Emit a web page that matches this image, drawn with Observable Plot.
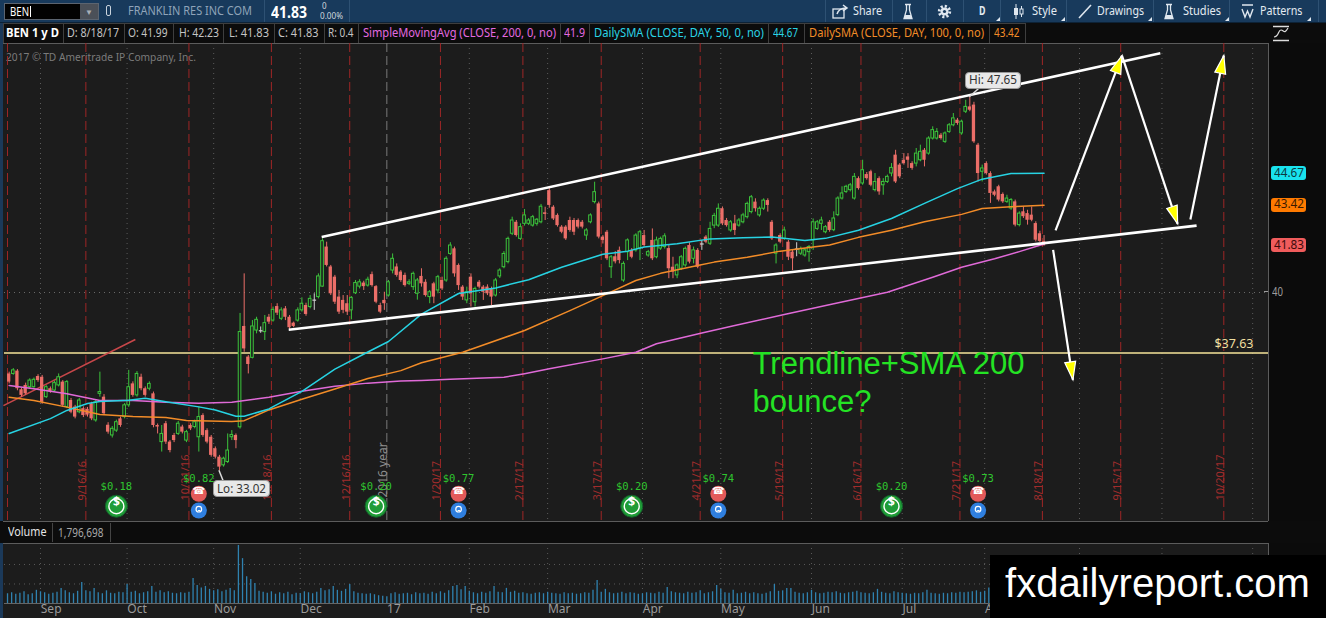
<!DOCTYPE html>
<html><head><meta charset="utf-8">
<script src="https://cdn.jsdelivr.net/npm/d3@7"></script>
<script src="https://cdn.jsdelivr.net/npm/@observablehq/plot@0.6"></script>
<style>
html,body{margin:0;padding:0;background:#1c1c1c;overflow:hidden}
#root{position:relative;width:1326px;height:618px;overflow:hidden;background:#1c1c1c;font-family:"Noto Sans","Open Sans",sans-serif}
#root svg{display:block}
</style></head><body><div id="root"></div>
<script>
// ---------- DATA (bar index 0 = 8/19/16 ... 251 = 8/18/17) ----------
const opens = [
36.81,36.81,36.92,36.19,36.36,36.29,36.29,36.71,36.68,35.90,
36.23,36.16,36.36,36.49,35.51,35.77,35.51,35.31,35.45,35.42,
35.64,34.99,36.03,35.90,34.80,34.40,34.59,35.05,35.12,35.58,
36.42,35.97,36.68,36.23,36.23,36.03,34.79,34.14,34.86,34.14,
34.40,34.46,34.73,34.20,34.79,34.73,34.33,35.18,34.59,34.33,
33.88,33.55,33.23,33.36,34.33,34.40,34.72,38.67,37.47,37.44,
38.51,38.50,38.45,39.03,38.90,39.45,38.97,39.36,39.03,38.80,
38.90,39.30,39.49,39.43,39.70,39.82,40.23,41.78,41.00,40.60,
39.82,39.69,39.56,39.30,39.97,40.23,40.37,40.27,40.70,40.23,
39.49,39.69,39.88,40.86,41.00,40.80,40.67,40.34,40.21,39.95,
40.63,40.40,39.82,40.34,40.08,40.47,40.47,41.51,41.71,41.06,
40.21,39.69,40.60,39.62,40.40,40.21,40.21,40.14,39.88,40.63,
40.99,41.19,42.30,42.75,42.10,42.69,42.69,42.62,42.69,42.75,
43.12,43.99,43.34,43.02,42.56,42.56,42.82,42.82,42.82,42.75,
42.23,42.75,43.54,43.47,42.17,42.36,40.99,41.40,41.65,40.47,
41.58,41.65,41.65,41.72,42.23,41.45,42.04,41.38,41.72,41.78,
41.72,40.99,40.67,40.93,41.06,41.84,41.32,41.65,41.90,42.17,
41.91,42.62,42.62,43.28,42.82,42.43,42.69,42.62,42.75,42.95,
43.15,43.54,43.02,43.28,43.60,42.75,41.52,42.23,42.10,41.97,
41.58,41.70,41.52,41.45,41.58,42.04,42.49,42.69,42.36,42.75,
42.44,43.03,43.68,43.94,44.01,43.68,44.46,44.27,44.62,44.73,
44.01,44.46,44.20,44.33,44.66,45.38,44.99,45.18,45.31,45.05,
45.05,45.18,45.57,45.44,46.03,46.03,46.16,45.90,46.29,46.55,
46.75,46.23,47.08,47.27,47.34,45.77,44.73,45.05,44.66,43.94,
44.14,43.84,43.55,43.29,43.55,42.64,43.16,43.09,43.03,42.70,
42.30,41.99];
const highs = [
36.88,37.02,36.98,36.25,36.45,36.62,36.65,36.78,36.75,36.35,
36.30,36.52,36.81,36.55,36.55,35.85,35.58,35.85,35.52,35.50,
35.70,35.78,36.88,36.00,34.90,34.75,35.00,35.12,35.65,36.95,
36.50,36.90,36.80,36.30,36.50,36.10,34.85,34.79,34.95,34.20,
34.48,34.95,34.80,34.60,34.86,35.00,35.51,35.25,34.66,34.40,
33.95,33.62,33.55,34.46,34.59,34.46,39.18,40.73,37.53,38.90,
39.03,38.65,39.10,39.14,39.43,39.56,39.40,39.45,39.10,38.84,
39.40,39.79,39.58,39.88,39.95,40.73,42.10,41.97,41.06,40.67,
40.08,39.88,39.88,39.84,40.47,40.50,40.44,40.60,40.80,40.27,
39.58,40.01,40.47,41.51,41.12,40.86,40.76,40.50,40.80,40.55,
40.93,40.50,40.08,40.40,40.67,40.60,41.40,41.95,41.78,41.12,
40.27,40.21,40.73,40.21,40.47,40.27,40.30,40.21,40.55,40.93,
41.60,42.17,42.95,42.82,42.69,43.25,42.90,43.02,42.90,43.45,
43.34,44.10,43.40,43.08,42.62,42.62,42.95,42.90,42.88,42.82,
42.50,43.08,44.32,43.54,42.23,42.43,41.45,41.60,41.78,41.20,
42.10,41.72,42.30,42.43,42.43,41.65,42.49,42.17,42.17,42.30,
41.84,41.38,41.12,41.45,41.78,41.95,41.78,41.72,42.04,42.23,
42.75,43.10,43.47,43.35,42.90,42.82,43.02,42.90,43.10,43.54,
43.80,43.67,43.35,43.67,43.67,42.82,41.91,42.30,42.56,42.04,
41.65,41.95,41.78,41.72,41.84,42.88,42.82,42.95,42.62,42.82,
43.16,43.75,44.14,44.20,44.27,44.66,44.53,45.18,44.70,44.79,
44.66,44.53,44.46,44.60,45.05,45.57,45.05,45.44,45.44,45.12,
45.64,45.77,45.64,46.10,46.49,46.42,46.23,46.29,46.62,47.01,
46.82,46.75,47.53,47.65,47.45,45.84,44.99,45.12,44.73,44.01,
44.20,43.90,43.81,43.68,43.62,43.16,43.35,43.22,43.35,42.77,
42.40,42.23];
const lows = [
36.42,36.76,36.15,35.90,35.98,36.22,36.25,36.48,35.62,35.85,
36.05,36.10,36.30,35.50,35.45,35.25,35.05,35.25,35.10,35.12,
34.98,34.92,35.90,35.18,34.45,34.30,34.52,34.72,35.05,35.50,
35.90,35.90,36.15,35.90,36.15,34.70,34.46,33.75,34.05,33.72,
34.12,34.40,34.46,34.12,34.59,34.66,33.75,34.33,34.07,33.55,
33.48,33.02,33.16,33.30,34.20,33.88,34.65,37.66,36.81,37.40,
38.38,38.40,38.12,38.75,38.84,39.10,38.90,38.90,38.54,38.62,
38.84,39.23,39.07,39.36,39.30,39.75,40.21,41.00,39.88,39.53,
39.14,39.17,39.10,38.93,39.92,40.14,40.08,40.21,40.21,39.56,
39.17,39.30,39.82,40.73,40.60,40.40,40.21,40.27,40.08,39.70,
40.21,39.82,39.56,39.56,39.95,40.08,40.40,41.45,40.60,40.08,
39.69,39.56,39.43,39.43,40.14,39.69,39.88,39.49,39.82,40.55,
40.93,41.12,42.23,42.17,42.04,42.60,42.62,42.56,42.60,42.69,
42.82,43.30,42.82,42.56,42.30,42.04,42.36,42.23,42.49,42.49,
42.04,42.69,43.47,42.10,41.90,41.25,40.55,41.12,41.12,40.40,
41.25,41.32,41.58,41.25,41.78,41.38,41.25,41.32,41.65,41.70,
40.54,40.54,40.54,40.86,40.99,41.12,41.12,40.93,41.65,41.91,
41.84,42.50,42.55,42.62,42.56,42.36,42.23,42.56,42.69,42.88,
43.08,43.15,42.95,43.21,43.15,42.04,41.12,41.91,42.04,41.25,
40.86,41.40,41.45,41.38,41.19,41.65,42.43,42.43,42.30,42.36,
42.38,42.97,43.62,43.88,43.94,43.62,44.01,44.20,44.40,44.14,
43.94,43.81,43.81,44.27,44.53,44.27,44.46,44.99,44.86,44.79,
44.92,45.12,44.92,45.38,45.97,45.97,45.97,45.84,46.23,46.49,
46.55,46.16,47.01,47.08,45.84,44.33,44.33,44.60,43.49,43.75,
43.55,43.49,43.49,43.22,42.57,42.57,42.90,42.64,42.77,41.98,
41.95,41.83];
const closes = [
36.49,36.95,36.23,35.97,36.03,36.55,36.58,36.55,35.70,36.29,
36.10,36.45,36.68,35.58,36.49,35.31,35.12,35.77,35.18,35.20,
35.05,35.70,36.10,35.25,34.53,34.66,34.92,34.79,35.58,36.29,
35.97,36.81,36.23,35.97,36.42,34.79,34.73,34.46,34.14,33.81,
34.20,34.86,34.53,34.53,34.66,34.92,35.12,34.40,34.14,33.62,
33.55,33.16,33.49,33.81,34.42,34.20,38.45,37.79,37.18,38.67,
38.93,38.50,38.80,38.84,39.32,39.19,39.30,39.03,38.62,38.67,
39.30,39.56,39.14,39.75,39.70,40.63,42.01,41.06,39.95,39.62,
39.23,39.30,39.23,39.79,40.37,40.40,40.23,40.50,40.27,39.62,
39.23,39.56,40.40,41.32,40.67,40.47,40.27,40.40,40.73,40.47,
40.34,39.88,40.01,39.82,40.60,40.14,41.32,41.84,40.73,40.27,
39.82,40.01,39.95,40.14,40.21,40.01,39.95,39.82,40.47,40.86,
41.51,42.10,42.82,42.23,42.56,43.02,42.82,42.95,42.85,43.36,
43.06,43.41,42.88,42.62,42.36,42.10,42.43,42.36,42.56,42.56,
42.43,43.02,43.93,42.17,42.04,41.32,41.38,41.20,41.25,41.12,
42.04,41.38,42.23,42.36,41.84,41.58,41.32,42.04,42.10,42.20,
40.93,40.80,41.06,41.38,41.71,41.19,41.65,40.99,41.90,41.97,
42.49,43.00,43.28,42.69,42.62,42.75,42.43,42.82,43.02,43.47,
43.73,43.28,43.28,43.60,43.41,42.10,41.84,41.97,42.43,41.38,
41.32,41.70,41.71,41.65,41.78,42.75,42.75,42.82,42.56,42.43,
42.90,43.68,43.88,44.14,44.20,44.53,44.07,44.79,44.46,44.20,
44.33,43.94,44.33,44.53,44.88,44.33,44.53,45.05,45.18,44.86,
45.44,45.51,45.18,46.03,46.36,46.29,46.03,46.23,46.55,46.82,
46.62,46.69,47.27,47.14,45.90,44.66,44.86,44.66,43.88,43.81,
43.62,43.55,43.68,43.62,42.64,43.09,42.97,42.83,42.83,42.05,
42.00,41.83];
// volume, millions of shares
const volumes = [
2.0,2.2,1.9,2.1,2.4,1.8,2.0,2.7,2.4,2.2,
1.9,2.1,2.3,3.1,2.6,2.2,2.0,2.5,4.3,2.6,
2.4,3.1,2.2,2.0,2.6,2.1,2.0,2.3,2.2,3.9,
2.3,2.5,2.0,2.2,2.4,3.5,2.3,2.6,2.2,2.4,
2.1,2.0,2.2,2.1,2.3,5.1,3.7,3.2,3.5,2.9,
2.6,2.8,2.4,2.7,3.1,2.6,11.9,9.2,5.5,4.9,
4.1,2.5,2.3,2.1,2.4,1.9,2.2,2.0,2.3,1.8,
2.1,2.0,2.4,2.2,2.0,2.3,3.1,2.6,2.8,3.5,
2.7,2.5,2.9,3.9,2.4,2.1,2.0,1.9,2.0,1.8,
1.6,1.5,1.4,2.0,2.2,1.9,2.0,2.1,1.8,2.2,
2.0,2.1,1.9,2.3,2.0,2.4,2.1,2.6,3.5,3.7,
2.8,3.5,2.5,2.2,2.0,2.3,2.1,2.4,3.5,2.3,
2.2,3.1,2.3,2.5,2.1,2.2,2.0,1.9,2.1,2.2,
2.0,2.3,2.1,2.0,1.9,2.2,2.0,2.1,1.9,2.0,
2.2,2.1,2.7,4.7,2.3,2.9,2.2,2.0,2.1,2.3,
2.0,2.2,2.1,1.9,2.0,2.2,2.1,2.0,2.3,2.1,
3.3,2.4,2.2,2.1,2.0,2.3,2.1,2.2,2.6,2.0,
2.2,2.4,3.7,2.9,2.2,2.1,2.7,2.0,2.1,2.3,
2.0,2.2,2.0,1.9,2.1,2.4,3.9,2.5,2.6,3.1,
3.1,2.3,2.1,2.0,2.2,2.7,2.2,2.0,2.1,2.3,
2.2,2.4,2.1,2.0,2.2,2.3,2.5,2.2,2.1,2.0,
2.2,2.9,2.3,2.1,2.0,2.4,2.2,2.1,2.0,1.9,
2.1,2.0,2.2,2.7,2.1,2.0,1.9,2.1,2.0,2.2,
2.1,2.3,2.2,2.3,2.4,2.6,2.3,2.5,3.2,2.8,
2.6,2.4,2.2,2.3,3.0,2.5,2.2,2.4,2.1,2.8,
2.3,1.796698];
// moving averages [bar index, value]
const sma50 = [[0,34.48],[10,35.06],[14,35.38],[19,35.65],[22,35.73],[29,35.78],[33,35.86],[38,35.72],[46,35.52],[50,35.40],[55,35.15],[57,35.15],[63,35.44],[71,36.13],[79,37.00],[87,37.67],[92,38.08],[100,39.15],[109,39.96],[118,40.18],[126,40.50],[134,40.99],[144,41.50],[150,41.62],[154,41.78],[162,41.91],[170,42.10],[178,42.14],[185,42.17],[193,42.04],[198,42.12],[206,42.44],[214,42.90],[222,43.49],[230,44.07],[236,44.44],[243,44.66],[251,44.67]];
const sma100 = [[0,35.90],[6,35.77],[14,35.51],[22,35.22],[30,35.14],[38,35.10],[43,34.99],[54,34.95],[57,34.98],[63,35.40],[71,35.82],[79,36.22],[87,36.63],[95,36.94],[100,37.25],[110,37.66],[125,38.51],[136,39.29],[144,39.88],[152,40.47],[158,40.75],[167,41.06],[171,41.19],[179,41.38],[187,41.62],[195,41.78],[199,41.86],[206,42.16],[214,42.44],[222,42.77],[231,43.06],[236,43.29],[243,43.36],[251,43.42]];
const sma200 = [[0,36.36],[6,36.23],[14,36.03],[22,35.77],[30,35.77],[38,35.70],[46,35.66],[54,35.70],[63,35.90],[71,36.13],[79,36.33],[87,36.45],[95,36.53],[100,36.55],[107,36.60],[120,36.68],[125,36.82],[131,37.01],[144,37.40],[152,37.66],[157,37.99],[168,38.41],[176,38.71],[188,39.14],[200,39.56],[213,40.01],[224,40.60],[231,40.99],[239,41.32],[245,41.60],[251,41.90]];
const lastValues = [44.67, 43.42, 41.83];        // SMA50, SMA100, close
const supportLevel = 37.63;
const gridPrice = [40];
const volGrid = [4, 8];
// calendar
const expiryIdx = [0,19,44,64,83,105,125,144,168,188,207,231,251,270,295];
const expiryLabels = ["","9/16/16","10/21/16","11/18/16","12/16/16","1/20/17","2/17/17","3/17/17","4/21/17","5/19/17","6/16/17","7/21/17","8/18/17","9/15/17","10/20/17"];
const monthEnds = [8,29,50,71,112,131,154,173,195,217,237,260,280,302];
const yearEnd = 92;
const monthTickIdx = [9,30,51,72,93,113,132,155,174,196,218,238];
const monthTickLabels = ["Sep","Oct","Nov","Dec","17","Feb","Mar","Apr","May","Jun","Jul","Aug"];
// events
const divIdx = [26,89,151,214];
const divLabels = ["$0.18","$0.20","$0.20","$0.20"];
const earnIdx = [46,109,172,235];
const earnLabels = ["$0.82","$0.77","$0.74","$0.73"];
const hiBar = 233, hiValue = 47.65, loBar = 51, loValue = 33.02;
// drawings [bar index, price]
const trendlines = [{x1:75.8,y1:42.17,x2:279.2,y2:49.37},{x1:67.8,y1:38.54,x2:288.0,y2:42.62}];
const redLine = [{x1:-1.4,y1:35.57,x2:30.6,y2:38.16}];
const arrows = [{x1:253.8,y1:42.43,x2:269.9,y2:49.28},{x1:269.9,y1:49.28,x2:283.4,y2:42.69},{x1:286.5,y1:42.86,x2:294.6,y2:49.28},{x1:253.2,y1:41.67,x2:258.0,y2:36.58}];
const note = {i:180.3, price:35.31, text:"Trendline+SMA 200\nbounce?"};

// ---------- STYLE / LAYOUT ----------
const GREEN="#3cc43c", RED="#eb6e68", GRAY="#d0d0d0", BG="#1c1c1c";
const XDOM=[-1.133,305.44], YDOM=[31.03,49.753];
const root=document.getElementById("root");
function box(x,y,w,h,css){const d=document.createElement("div");Object.assign(d.style,{position:"absolute",left:x+"px",top:y+"px",width:w+"px",height:h+"px"},css||{});root.appendChild(d);return d;}
function txt(x,cy,s,css,fitW){const d=document.createElement("div");d.textContent=s;Object.assign(d.style,{position:"absolute",left:x+"px",top:"0px",whiteSpace:"nowrap",lineHeight:"1",transformOrigin:"0 50%"},css||{});root.appendChild(d);const r=d.getBoundingClientRect();d.style.top=(cy-r.height/2)+"px";if(fitW&&r.width>0)d.style.transform=`scaleX(${fitW/r.width})`;return d;}
function icon(x,y,w,h,inner){const d=box(x,y,w,h);d.innerHTML=`<svg width="${w}" height="${h}" viewBox="0 0 ${w} ${h}">${inner}</svg>`;return d;}

// toolbar
box(0,0,1326,23,{background:"#183a5c"});
box(0,22,1326,1,{background:"#0d2236"});
box(4,3,95,17,{background:"#020202",border:"1px solid #5b6470",boxSizing:"border-box"});
txt(10,11.5,"BEN",{fontSize:"12px",color:"#fff"},19);
box(30,6,1,11,{background:"#fff"});
box(80,4,18,15,{background:"#4b5058"});
txt(85,11.5,"▼",{fontSize:"8px",color:"#a9b0b8"});
box(106,5,5,11,{border:"1px solid #c9d3dd",borderRadius:"2px",boxSizing:"border-box"});
txt(128,11.5,"FRANKLIN RES INC COM",{fontSize:"12.5px",color:"#8fa4b9"},124);
box(264,0,1,22,{background:"#2e5173"});
txt(271,12,"41.83",{fontSize:"16px",color:"#fff",fontWeight:"bold"},36);
txt(322,5.5,"0",{fontSize:"8px",color:"#d0d6dc"});
txt(320,16,"0.00%",{fontSize:"8px",color:"#d0d6dc"},23);
box(349,0,1,22,{background:"#2e5173"});
[825,891.5,925.5,962.5,1000,1065.7,1152.8,1229,1318].forEach(x=>box(x,0,1,22,{background:"#2e5173"}));
const TB={fontSize:"12.5px",color:"#e3eaf1"};
txt(853,11.5,"Share",TB,29);txt(1032,11.5,"Style",TB,25);txt(1097,11.5,"Drawings",TB,47);txt(1182.5,11.5,"Studies",TB,38);txt(1260,11.5,"Patterns",TB,42.5);
txt(979,11.5,"D",Object.assign({fontWeight:"bold"},TB),6.5);
const IC="#dfe7ef";
icon(832,4,18,15,`<rect x="1" y="5" width="11" height="9" fill="none" stroke="${IC}" stroke-width="1.3"/><path d="M5 10 Q7 4 14 4 M11 1 L15 4 L11 7" fill="none" stroke="${IC}" stroke-width="1.5"/>`);
const flask=`<path d="M2 1.5 H8 M3.5 1.5 V7 L1 15.5 H9 L6.5 7 V1.5" fill="none" stroke="${IC}" stroke-width="1.3"/><path d="M2.2 12 H7.8 L8.6 15 H1.4Z" fill="${IC}"/>`;
icon(903,3,10,17,flask);icon(1164,3,10,17,flask);
icon(937,4,15,15,`<circle cx="7.5" cy="7.5" r="5.3" fill="none" stroke="${IC}" stroke-width="2.8" stroke-dasharray="2.1 2"/><circle cx="7.5" cy="7.5" r="4" fill="${IC}"/><circle cx="7.5" cy="7.5" r="1.6" fill="#183a5c"/>`);
icon(1013,3,11,17,`<line x1="3" y1="1" x2="3" y2="16" stroke="${IC}"/><rect x="1" y="5" width="4" height="7" fill="${IC}"/><line x1="8.5" y1="3" x2="8.5" y2="14" stroke="${IC}"/><rect x="7" y="6" width="3" height="5" fill="#183a5c" stroke="${IC}"/>`);
icon(1078,4,14,15,`<line x1="1" y1="14" x2="13" y2="1" stroke="${IC}" stroke-width="1.6"/>`);
icon(1241,3,13,17,`<line x1="1" y1="2" x2="12" y2="2" stroke="${IC}" stroke-width="1.5"/><path d="M1 6 L4 14 L6.5 8 L9 14 L12 6" fill="none" stroke="${IC}" stroke-width="1.4"/>`);
[996,1061,1148,1225,1307].forEach(x=>icon(x,17,4,4,`<polygon points="4,0 4,4 0,4" fill="${IC}"/>`));

// study header row
box(0,23,1326,20,{background:"#0c0c0c"});
box(3,23,1022,1,{background:"#3e3e3e"});
const cells=[
 [6,"BEN 1 y D","#ffffff",53,true,63],[67,"D: 8/18/17","#c4c4c4",52,false,124],[128,"O: 41.99","#c4c4c4",39.5,false,172.6],
 [179,"H: 42.23","#c4c4c4",40,false,223],[229,"L: 41.83","#c4c4c4",40,false,273.6],[278,"C: 41.83","#c4c4c4",40.5,false,324],
 [328,"R: 0.4","#c4c4c4",25.5,false,357.7],[363,"SimpleMovingAvg (CLOSE, 200, 0, no)","#e46ae0",193,false,560],
 [564,"41.9","#e46ae0",21,false,589],[594,"DailySMA (CLOSE, DAY, 50, 0, no)","#2ad4e6",170,false,768],
 [773,"44.67","#2ad4e6",25,false,804],[809,"DailySMA (CLOSE, DAY, 100, 0, no)","#f28c28",175,false,989],[993.5,"43.42","#f28c28",25.5,false,1024.5]];
box(3,23,1,20,{background:"#3e3e3e"});
cells.forEach(([x,s,c,w,b,bx])=>{txt(x,33,s,{fontSize:"12.5px",color:c,fontWeight:b?"bold":"normal"},w);box(bx,23,1,20,{background:"#3e3e3e"});});
icon(1272,25,20,17,`<line x1="1" y1="1.5" x2="17" y2="1.5" stroke="#ddd" stroke-width="1.5"/><line x1="1" y1="15.5" x2="17" y2="15.5" stroke="#ddd" stroke-width="1.5"/><path d="M2 12 C7 12 6 5 9 5 C12 5 12 10 16 3" fill="none" stroke="#ddd" stroke-width="1.2"/>`);

// chart frame
box(3,43,1265,478,{background:BG});
box(1268,43,58,478,{background:"#0b0b0b"});
box(1268,43,1,478,{background:"#5c5c5c"});
box(3,43,1265,1,{background:"#5c5c5c"});
box(0,23,3,595,{background:"#1b3959"});
txt(6,56.5,"2017 © TD Ameritrade IP Company, Inc.",{fontSize:"10px",color:"#7b7b7b"},190);

// ---------- MAIN PLOT ----------
const candles=closes.map((c,i)=>({i,o:opens[i],h:highs[i],l:lows[i],c}));
const colorOf=d=>d.c>d.o?GREEN:d.c<d.o?RED:GRAY;
const up=candles.filter(d=>d.c>d.o), down=candles.filter(d=>d.c<d.o), flat=candles.filter(d=>d.c===d.o);
const toPts=a=>a.map(([i,v])=>({i,v}));
const kx=(1268-4)/(XDOM[1]-XDOM[0]), ky=478/(YDOM[1]-YDOM[0]);
const heads=arrows.map(a=>({x:a.x2,y:a.y2,angle:Math.atan2((a.x2-a.x1)*kx,(a.y2-a.y1)*ky)*180/Math.PI}));
const headSymbol={draw(ctx){ctx.moveTo(0,0);ctx.lineTo(-5.5,18);ctx.lineTo(5.5,18);ctx.closePath();}};
const expiries=expiryIdx.map((i,k)=>({i,label:expiryLabels[k]}));
const divs=divIdx.map((i,k)=>({i,label:divLabels[k]}));
const earns=earnIdx.map((i,k)=>({i,label:earnLabels[k]}));
const FONT="Noto Sans, sans-serif", MONO="DejaVu Sans Mono, monospace";

const main=Plot.plot({
  width:1326,height:478,marginLeft:4,marginRight:58,marginTop:0,marginBottom:0,
  x:{domain:XDOM,axis:null},y:{domain:YDOM,axis:null},color:{type:"identity"},
  style:{background:"transparent",overflow:"visible"},
  marks:[
    Plot.ruleY(gridPrice,{stroke:"#6b6b6b",strokeDasharray:"1,4"}),
    Plot.ruleX(monthEnds,{x:d=>d-0.4,stroke:"#5c5c5c",strokeDasharray:"1,4"}),
    Plot.ruleX([yearEnd],{x:d=>d-0.4,stroke:"#7a7a7a",strokeDasharray:"9,4"}),
    Plot.ruleX(expiryIdx,{x:d=>d-0.4,stroke:"#9e2626",strokeDasharray:"9,4"}),
    Plot.text(expiries,{x:d=>d.i-0.4,text:"label",frameAnchor:"bottom",dy:-21,rotate:-90,textAnchor:"start",lineAnchor:"bottom",fill:"#a02c2c",fontSize:11,fontFamily:FONT}),
    Plot.text([yearEnd],{x:d=>d-0.4,text:()=>"2016 year",frameAnchor:"bottom",dy:-24,rotate:-90,textAnchor:"start",lineAnchor:"bottom",fill:"#8c8c8c",fontSize:12,fontFamily:FONT}),
    Plot.ruleY([supportLevel],{stroke:"#f6e59a",strokeWidth:1.3}),
    Plot.text([supportLevel],{y:d=>d,text:d=>"$"+d.toFixed(2),frameAnchor:"right",dx:-15,dy:-9.5,textAnchor:"end",fill:"#f0dfa0",fontSize:12.5,fontFamily:FONT}),
    Plot.link(redLine,{x1:"x1",y1:"y1",x2:"x2",y2:"y2",stroke:"#c8474a",strokeWidth:1.5}),
    Plot.ruleX(candles,{x:"i",y1:"l",y2:"h",stroke:colorOf,strokeWidth:1}),
    Plot.rect(down,{x1:d=>d.i-0.4,x2:d=>d.i+0.4,y1:"o",y2:"c",fill:RED}),
    Plot.rect(up,{x1:d=>d.i-0.32,x2:d=>d.i+0.32,y1:"o",y2:"c",fill:BG,stroke:GREEN,strokeWidth:1}),
    Plot.link(flat,{x1:d=>d.i-0.45,x2:d=>d.i+0.45,y1:"o",y2:"o",stroke:GRAY,strokeWidth:1.2}),
    Plot.line(toPts(sma200),{x:"i",y:"v",stroke:"#e06ad8",strokeWidth:1.5}),
    Plot.line(toPts(sma100),{x:"i",y:"v",stroke:"#f28c28",strokeWidth:1.5}),
    Plot.line(toPts(sma50),{x:"i",y:"v",stroke:"#27d3e3",strokeWidth:1.5}),
    Plot.link(trendlines,{x1:"x1",y1:"y1",x2:"x2",y2:"y2",stroke:"#ffffff",strokeWidth:2.6}),
    Plot.link(arrows,{x1:"x1",y1:"y1",x2:"x2",y2:"y2",stroke:"#ffffff",strokeWidth:2.2}),
    Plot.dot(heads,{x:"x",y:"y",rotate:"angle",symbol:headSymbol,fill:"#ffff00",stroke:"#ffffff",strokeWidth:1.2}),
    Plot.text([note],{x:"i",y:"price",text:"text",textAnchor:"start",lineAnchor:"bottom",lineHeight:1.23,fontSize:31,fill:"#24e324",fontFamily:"Liberation Sans, Arial, sans-serif"}),
    Plot.dot(divs,{x:"i",frameAnchor:"bottom",dy:-15.3,r:11,fill:"#1f9c37",stroke:"#13602a",strokeWidth:1}),
    Plot.dot(divs,{x:"i",frameAnchor:"bottom",dy:-15.3,r:7.5,fill:"none",stroke:"#ffffff",strokeWidth:1.4}),
    Plot.text(divs,{x:"i",text:()=>"$",frameAnchor:"bottom",dy:-15.3,fill:"#ffffff",fontSize:12,fontWeight:"bold",fontFamily:FONT}),
    Plot.text(divs,{x:"i",text:"label",frameAnchor:"bottom",dy:-32,fill:"#2fc52f",fontSize:10.5,fontFamily:MONO}),
    Plot.dot(earns,{x:"i",frameAnchor:"bottom",dy:-27.7,r:8,fill:"#e35a5a"}),
    Plot.text(earns,{x:"i",text:()=>"☎",frameAnchor:"bottom",dy:-27.7,fill:"#ffffff",fontSize:10,fontFamily:"DejaVu Sans, sans-serif"}),
    Plot.dot(earns,{x:"i",frameAnchor:"bottom",dy:-11,r:8,fill:"#2f7fdf"}),
    Plot.dot(earns,{x:"i",frameAnchor:"bottom",dy:-12.3,r:2.8,fill:"none",stroke:"#ffffff",strokeWidth:1.2}),
    Plot.text(earns,{x:"i",text:()=>"-",frameAnchor:"bottom",dy:-8.4,fill:"#ffffff",fontSize:9,fontWeight:"bold",fontFamily:FONT}),
    Plot.text(earns,{x:"i",text:"label",frameAnchor:"bottom",dy:-40,fill:"#2fc52f",fontSize:10.5,fontFamily:MONO})
  ]
});
Object.assign(main.style,{position:"absolute",left:"0px",top:"43px"});
root.appendChild(main);
const sx=main.scale("x"), sy=main.scale("y");

// ---------- VOLUME ----------
box(0,521,1326,22,{background:"#0c0c0c"});
box(3,521,1265,1,{background:"#5c5c5c"});
txt(7.5,532.5,"Volume",{fontSize:"12.5px",color:"#e6e6e6"},38.5);
box(52,523,1,19,{background:"#444"});
txt(57.5,532.5,d3.format(",")(Math.round(volumes[volumes.length-1]*1e6)),{fontSize:"12px",color:"#a8a8a8"},45.5);
box(110,523,1,19,{background:"#444"});
box(3,543,1265,75,{background:BG});
box(3,543,1265,1,{background:"#5c5c5c"});
box(1268,543,58,75,{background:"#0b0b0b"});
box(1268,543,1,60,{background:"#5c5c5c"});
const months=monthTickIdx.map((i,k)=>({i,label:monthTickLabels[k]}));
const vol=Plot.plot({
  width:1326,height:75,marginLeft:4,marginRight:58,marginTop:0,marginBottom:15,
  x:{domain:XDOM,axis:null},y:{domain:[0,12.3],axis:null},
  style:{background:"transparent",overflow:"visible"},
  marks:[
    Plot.ruleY(volGrid,{stroke:"#5a5a5a",strokeDasharray:"1,4"}),
    Plot.ruleX(monthEnds,{x:d=>d-0.4,stroke:"#5a5a5a",strokeDasharray:"1,4"}),
    Plot.ruleX(volumes,{x:(d,i)=>i-0.4,y:d=>d,stroke:"#2f82b0",strokeWidth:1.3}),
    Plot.ruleY([0],{stroke:"#666"}),
    Plot.text(months,{x:"i",text:"label",frameAnchor:"bottom",dy:9,dx:-5.5,textAnchor:"start",fill:"#9a9a9a",fontSize:12,fontFamily:FONT})
  ]
});
Object.assign(vol.style,{position:"absolute",left:"0px",top:"543px"});
root.appendChild(vol);

// ---------- OVERLAYS ----------
const tagStyle=[["#19e3ee","#0c3a3f"],["#ff7a00","#3b1a00"],["#f05c5c","#3d0b0b"]];
lastValues.forEach((v,k)=>{const cy=43+sy.apply(v);box(1271,cy-7,35,14,{background:tagStyle[k][0],borderRadius:"3px"});txt(1273.5,cy,v.toFixed(2),{fontSize:"12.5px",color:tagStyle[k][1]},30);});
gridPrice.forEach(v=>{const cy=43+sy.apply(v);box(1264,cy-0.5,4,1,{background:"#9c9c9c"});txt(1272,cy,String(v),{fontSize:"12.5px",color:"#9c9c9c"},11);});
// hi / lo bubbles
const ov=document.createElementNS("http://www.w3.org/2000/svg","svg");
ov.setAttribute("width","1326");ov.setAttribute("height","618");
Object.assign(ov.style,{position:"absolute",left:"0px",top:"0px"});
root.appendChild(ov);
function bubble(i,v,dxBox,dyBox,w,label,ptr){
  const px=sx.apply(i), py=43+sy.apply(v);
  const ln=document.createElementNS("http://www.w3.org/2000/svg","line");
  ln.setAttribute("x1",px);ln.setAttribute("y1",py);ln.setAttribute("x2",px+ptr[0]);ln.setAttribute("y2",py+ptr[1]);
  ln.setAttribute("stroke","#dcdcdc");ln.setAttribute("stroke-width","1.5");ov.appendChild(ln);
  box(px+dxBox,py+dyBox,w,17,{background:"#e8e8e8",borderRadius:"4px",border:"1px solid #9a9a9a",boxSizing:"border-box"});
  txt(px+dxBox+4,py+dyBox+8.5,label,{fontSize:"12px",color:"#333"},w-8);
}
bubble(hiBar,hiValue,-4,-25,56,"Hi: "+hiValue.toFixed(2),[9,-8]);
bubble(loBar,loValue,-6,10,57,"Lo: "+loValue.toFixed(2),[4,10]);

// watermark
box(990,555,336,63,{background:"#000"});
txt(1005,583,"fxdailyreport.com",{fontFamily:"Liberation Sans, Arial, sans-serif",fontSize:"40px",color:"#fff"},305);
</script></body></html>
